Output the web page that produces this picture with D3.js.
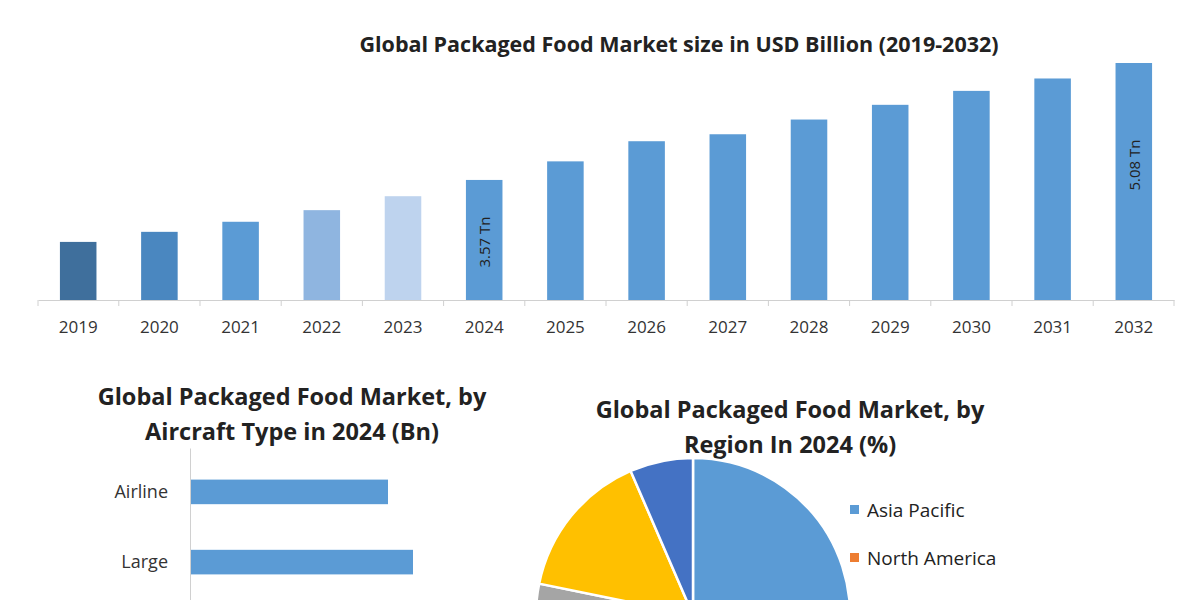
<!DOCTYPE html><html><head><meta charset="utf-8"><script src="https://cdn.jsdelivr.net/npm/d3@7"></script>
<style>body{margin:0;background:#fff}text{font-family:"Open Sans",sans-serif}</style></head><body><svg id="c" width="1200" height="600"></svg>
<script>
const years=["2019","2020","2021","2022","2023","2024","2025","2026","2027","2028","2029","2030","2031","2032"];
const marketValues=[2.77,2.90,3.03,3.18,3.36,3.57,3.81,4.07,4.16,4.35,4.54,4.72,4.88,5.08];
const barColors=["#3F6F9C","#4A87C0","#5B9BD5","#8FB5E0","#BED3EE","#5B9BD5","#5B9BD5","#5B9BD5","#5B9BD5","#5B9BD5","#5B9BD5","#5B9BD5","#5B9BD5","#5B9BD5"];
const barLabels={"2024":"3.57 Tn","2032":"5.08 Tn"};
const typeCats=["Airline","Large"];
const typeValues=[198,223];
const regions=["Asia Pacific","North America","Europe","Middle East & Africa","South America"];
const regionShares=[40,25,13.2,15.3,6.5];
const regionColors=["#5B9BD5","#ED7D31","#A5A5A5","#FFC000","#4472C4"];

const svg=d3.select("#c");
svg.append("text").attr("x",679).attr("y",52).attr("text-anchor","middle").attr("font-size",21.5).attr("font-weight","bold").attr("fill","#222").text("Global Packaged Food Market size in USD Billion (2019-2032)");
const x=d3.scaleBand().domain(years).range([38,1174]).paddingInner(0.55).paddingOuter(0.27);
const y=d3.scaleLinear().domain([2.02,5.08]).range([300,63]);
svg.selectAll(".b").data(years).join("rect").attr("x",d=>x(d)).attr("width",x.bandwidth()).attr("y",(d,i)=>y(marketValues[i])).attr("height",(d,i)=>300-y(marketValues[i])).attr("fill",(d,i)=>barColors[i]);
const ax=svg.append("g").attr("transform","translate(0,300)").call(d3.axisBottom(x).tickSize(0).tickPadding(21));
ax.select(".domain").attr("stroke","#d0d0d0");
ax.selectAll(".tick text").attr("font-size",17).attr("fill","#333").attr("font-family","Open Sans");
const bounds=[38,...years.slice(1).map(d=>x(d)-x.step()*x.paddingInner()/2),1174];
svg.selectAll(".tk").data(bounds).join("line").attr("x1",d=>d).attr("x2",d=>d).attr("y1",300).attr("y2",306).attr("stroke","#d0d0d0");
Object.entries(barLabels).forEach(([k,t])=>{const cx=x(k)+x.bandwidth()/2;
svg.append("text").attr("transform",`translate(${cx+6},${k==="2024"?242:165}) rotate(-90)`).attr("text-anchor","middle").attr("font-size",15).attr("fill","#222").text(t);});

svg.append("text").attr("y",405).attr("text-anchor","middle").attr("font-size",23.5).attr("font-weight","bold").attr("fill","#222").selectAll("tspan").data(["Global Packaged Food Market, by","Aircraft Type in 2024 (Bn)"]).join("tspan").attr("x",292).attr("dy",(d,i)=>i?35:0).text(d=>d);
const hx=d3.scaleLinear().domain([0,250]).range([190,440]);
const hy=d3.scaleBand().domain(typeCats).range([448,606]).paddingInner(0.65).paddingOuter(0.45);
svg.selectAll(".h").data(typeCats).join("rect").attr("x",190).attr("y",d=>hy(d)).attr("height",hy.bandwidth()).attr("width",(d,i)=>hx(typeValues[i])-190).attr("fill","#5B9BD5");
const ay=svg.append("g").attr("transform","translate(190,0)").call(d3.axisLeft(hy).tickSize(0).tickPadding(22));
ay.select(".domain").attr("stroke","#d0d0d0");
ay.selectAll(".tick text").attr("font-size",18).attr("fill","#333").attr("font-family","Open Sans");

svg.append("text").attr("y",418).attr("text-anchor","middle").attr("font-size",23.5).attr("font-weight","bold").attr("fill","#222").selectAll("tspan").data(["Global Packaged Food Market, by","Region In 2024 (%)"]).join("tspan").attr("x",790).attr("dy",(d,i)=>i?35:0).text(d=>d);
const pie=d3.pie().sort(null)(regionShares);
const arc=d3.arc().innerRadius(0).outerRadius(157);
svg.append("g").attr("transform","translate(693,615)").selectAll("path").data(pie).join("path").attr("d",arc).attr("fill",(d,i)=>regionColors[i]).attr("stroke","#fff").attr("stroke-width",2.5);
const lg=svg.selectAll(".lg").data(regions).join("g").attr("transform",(d,i)=>`translate(850,${510+i*48})`);
lg.append("rect").attr("x",0).attr("y",-5).attr("width",9).attr("height",9).attr("fill",(d,i)=>regionColors[i]);
lg.append("text").attr("x",17).attr("y",7).attr("font-size",19).attr("fill","#222").text(d=>d);
</script></body></html>
